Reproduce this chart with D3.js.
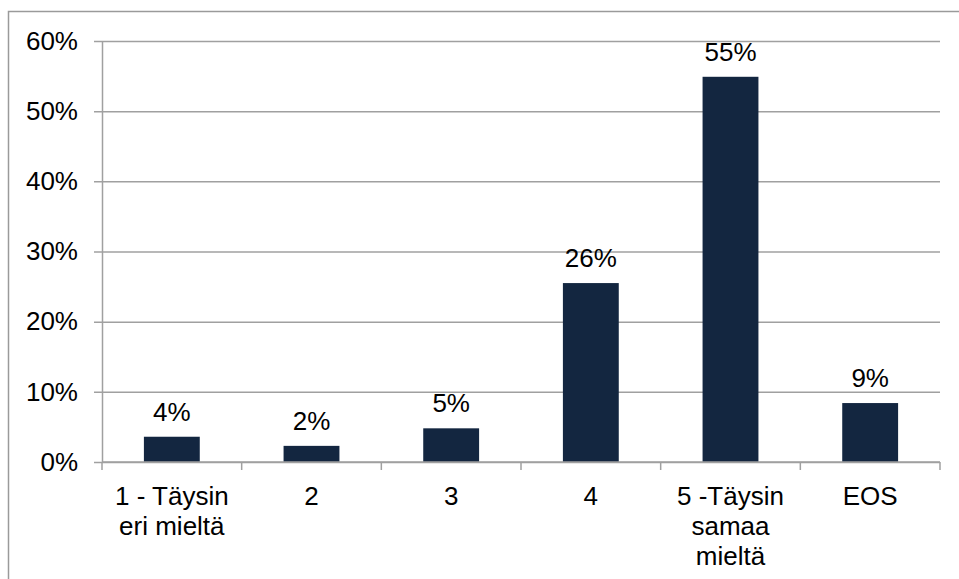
<!DOCTYPE html>
<html>
<head>
<meta charset="utf-8">
<script src="https://cdn.jsdelivr.net/npm/d3@7"></script>
<style>
  body { margin: 0; background: #fff; }
  text { font-family: "Liberation Sans", Arial, sans-serif; fill: #000; }
</style>
</head>
<body>
<div id="chart"></div>
<script>
const categories = ['1 - Täysin\neri mieltä', '2', '3', '4', '5 -Täysin\nsamaa\nmieltä', 'EOS'];
const values = [3.6, 2.3, 4.8, 25.5, 54.9, 8.4];
const valueLabels = ['4%', '2%', '5%', '26%', '55%', '9%'];
const yTicks = [0, 10, 20, 30, 40, 50, 60];

const width = 959, height = 579;
const margin = { top: 41, right: 19, bottom: 117, left: 102 };
const barColor = '#132640',
    gridColor = '#a0a0a0',
    fontSize = 26;

const svg = d3.select('#chart').append('svg')
    .attr('width', width)
    .attr('height', height);

// outer frame (only top and left edges visible)
svg.append('rect')
    .attr('x', 8.5).attr('y', 11.5)
    .attr('width', 1000).attr('height', 1000)
    .attr('fill', 'none')
    .attr('stroke', '#9a9a9a')
    .attr('stroke-width', 1.5);

const x = d3.scaleBand()
    .domain(categories)
    .range([margin.left, width - margin.right])
    .paddingInner(0.6)
    .paddingOuter(0.3);

const y = d3.scaleLinear()
    .domain([0, 60])
    .range([height - margin.bottom, margin.top]);

// gridlines + y labels
const yAxis = svg.append('g')
    .attr('transform', 'translate(' + margin.left + ',0)')
    .call(d3.axisLeft(y)
        .tickValues(yTicks)
        .tickFormat(d => d + '%')
        .tickSize(-(width - margin.left - margin.right))
        .tickSizeOuter(0));
yAxis.select('.domain').attr('stroke', gridColor).attr('stroke-width', 1.5);
yAxis.selectAll('.tick line').attr('stroke', gridColor).attr('stroke-width', 1.5)
    .attr('x1', -8);
yAxis.selectAll('.tick text')
    .attr('x', -24)
    .attr('font-size', fontSize)
    .attr('font-family', '"Liberation Sans", Arial, sans-serif')
    .attr('fill', '#000');

// bars
svg.append('g').selectAll('rect')
    .data(values)
    .enter()
    .append('rect')
    .attr('x', (d, i) => x(categories[i]))
    .attr('y', d => y(d))
    .attr('width', x.bandwidth())
    .attr('height', d => y(0) - y(d))
    .attr('fill', barColor);

// value labels
svg.append('g').selectAll('text')
    .data(values)
    .enter()
    .append('text')
    .attr('x', (d, i) => x(categories[i]) + x.bandwidth() / 2)
    .attr('y', d => y(d) - 16)
    .attr('text-anchor', 'middle')
    .attr('font-size', fontSize)
    .text((d, i) => valueLabels[i]);

// x axis line and ticks between categories
const step = (width - margin.left - margin.right) / categories.length;
const bottom = svg.append('g');
bottom.append('line')
    .attr('x1', margin.left).attr('x2', width - margin.right)
    .attr('y1', y(0)).attr('y2', y(0))
    .attr('stroke', gridColor).attr('stroke-width', 1.5);
bottom.selectAll('.xtick')
    .data(d3.range(categories.length + 1))
    .enter()
    .append('line')
    .attr('x1', i => margin.left + i * step)
    .attr('x2', i => margin.left + i * step)
    .attr('y1', y(0)).attr('y2', y(0) + 8)
    .attr('stroke', gridColor).attr('stroke-width', 1.5);

// category labels
const catLabels = svg.append('g').selectAll('text')
    .data(categories)
    .enter()
    .append('text')
    .attr('text-anchor', 'middle')
    .attr('font-size', fontSize)
    .attr('x', d => x(d) + x.bandwidth() / 2)
    .attr('y', y(0) + 43);
catLabels.selectAll('tspan')
    .data(d => d.split('\n'))
    .enter()
    .append('tspan')
    .attr('x', function() { return d3.select(this.parentNode).attr('x'); })
    .attr('dy', (d, i) => i === 0 ? 0 : 30)
    .text(d => d);
</script>
</body>
</html>
